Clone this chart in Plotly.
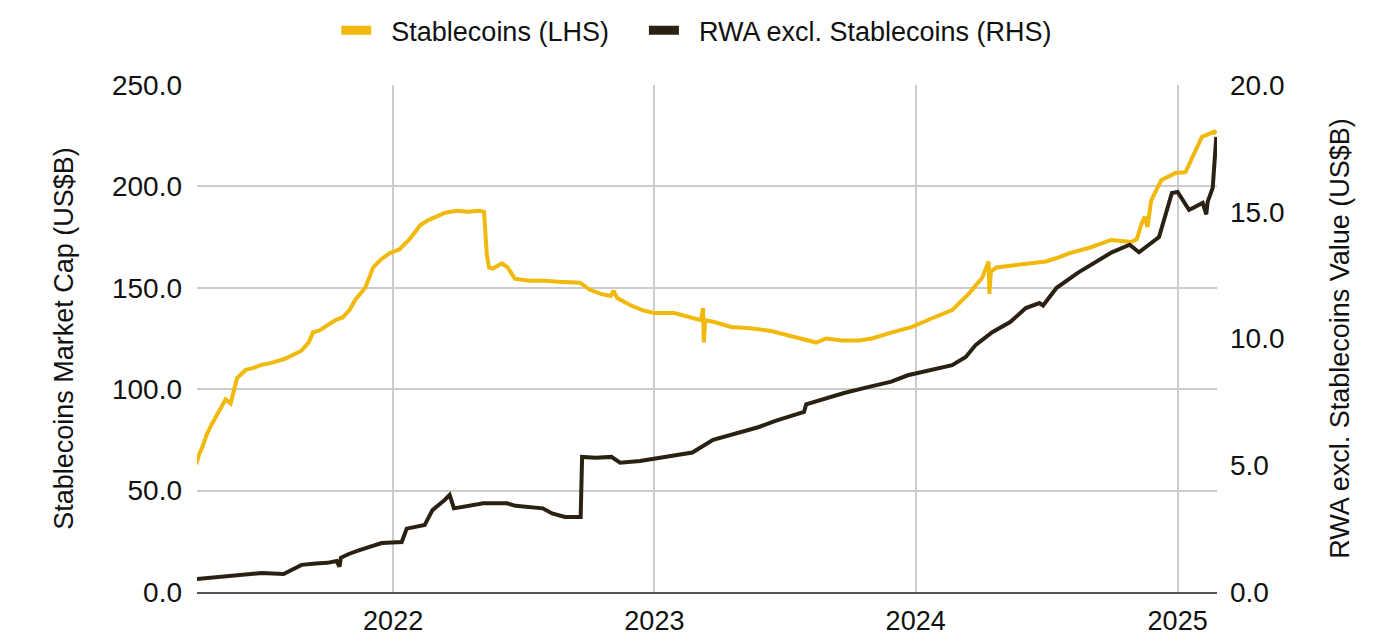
import plotly.graph_objects as go

# Stablecoins market cap (US$B), left axis
stable_dates = [
    "2021-04-01", "2021-04-05", "2021-04-09", "2021-04-16", "2021-04-23", "2021-05-01",
    "2021-05-12", "2021-05-19", "2021-05-24", "2021-05-28", "2021-06-09", "2021-06-20",
    "2021-07-01", "2021-07-15", "2021-08-03", "2021-08-15", "2021-08-26", "2021-09-05",
    "2021-09-11", "2021-09-20", "2021-10-02", "2021-10-12", "2021-10-23", "2021-11-01",
    "2021-11-09", "2021-11-16", "2021-11-23", "2021-12-04", "2021-12-15", "2021-12-27",
    "2022-01-10", "2022-01-24", "2022-02-08", "2022-02-20", "2022-03-03", "2022-03-15",
    "2022-03-31", "2022-04-15", "2022-05-02", "2022-05-08", "2022-05-12", "2022-05-15",
    "2022-05-20", "2022-06-02", "2022-06-10", "2022-06-20", "2022-07-10", "2022-08-01",
    "2022-08-20", "2022-09-19", "2022-10-03", "2022-10-18", "2022-11-01", "2022-11-05",
    "2022-11-10", "2022-11-28", "2022-12-15", "2023-01-01", "2023-01-29", "2023-02-20",
    "2023-03-07", "2023-03-10", "2023-03-11", "2023-03-13", "2023-03-27", "2023-04-18",
    "2023-05-15", "2023-06-13", "2023-07-15", "2023-08-15", "2023-08-29", "2023-09-20",
    "2023-10-14", "2023-11-01", "2023-11-29", "2023-12-27", "2024-01-24", "2024-02-21",
    "2024-03-16", "2024-04-03", "2024-04-12", "2024-04-13", "2024-04-15", "2024-04-23",
    "2024-05-15", "2024-06-03", "2024-07-01", "2024-07-19", "2024-08-02", "2024-09-02",
    "2024-09-30", "2024-10-28", "2024-11-05", "2024-11-12", "2024-11-16", "2024-11-20",
    "2024-11-25", "2024-12-09", "2024-12-29", "2025-01-12", "2025-01-26", "2025-02-04",
    "2025-02-15", "2025-02-21", "2025-02-24",
]
stable_values = [
    63, 68, 71, 78, 83, 88,
    95, 93, 101, 105.5, 109.5, 110.5,
    112, 113, 115, 117, 119, 123,
    128, 129, 132, 134, 135.5, 139,
    144, 147, 150, 160, 164, 167,
    169, 174, 181, 183.5, 185, 187,
    188, 187.5, 188, 187.5, 166, 160,
    159.5, 162, 160, 154.5, 153.5, 153.5,
    153, 152.5, 149, 147, 146, 148.5,
    145, 141.5, 139, 137.6, 137.6, 135.5,
    134, 140, 123, 134, 133, 130.7,
    130, 128.7, 126, 123, 125, 124,
    124, 125, 128, 130.7, 135, 139,
    147.4, 155, 163, 147, 158, 160,
    161, 162, 163, 165, 167, 170,
    173.6, 172.6, 174, 182, 185, 180,
    193, 203, 206.6, 207, 218, 224.4,
    226, 227, 226,
]

# RWA excl. stablecoins value (US$B), right axis
rwa_dates = [
    "2021-04-01", "2021-05-01", "2021-06-01", "2021-07-01", "2021-08-01", "2021-08-26",
    "2021-09-15", "2021-10-01", "2021-10-14", "2021-10-18", "2021-10-20", "2021-10-31",
    "2021-11-15", "2021-12-01", "2021-12-16", "2022-01-13", "2022-01-20", "2022-02-14",
    "2022-02-25", "2022-03-14", "2022-03-21", "2022-03-27", "2022-04-20", "2022-05-07",
    "2022-06-09", "2022-06-21", "2022-07-29", "2022-08-11", "2022-08-29", "2022-09-20",
    "2022-09-22", "2022-10-11", "2022-11-02", "2022-11-14", "2022-12-12", "2023-01-01",
    "2023-02-14", "2023-02-23", "2023-03-24", "2023-04-17", "2023-05-26", "2023-06-19",
    "2023-07-29", "2023-08-01", "2023-09-23", "2023-10-22", "2023-11-28", "2023-12-21",
    "2024-01-15", "2024-02-21", "2024-03-11", "2024-03-25", "2024-04-17", "2024-05-12",
    "2024-06-03", "2024-06-22", "2024-06-27", "2024-07-16", "2024-08-15", "2024-09-14",
    "2024-10-01", "2024-10-26", "2024-11-08", "2024-12-06", "2024-12-24", "2025-01-01",
    "2025-01-17", "2025-02-05", "2025-02-10", "2025-02-12", "2025-02-19", "2025-02-24",
]
rwa_values = [
    0.51, 0.58, 0.66, 0.75, 0.71, 1.07,
    1.12, 1.15, 1.22, 1.0, 1.35, 1.5,
    1.65, 1.8, 1.93, 1.97, 2.5, 2.64,
    3.23, 3.63, 3.83, 3.3, 3.43, 3.5,
    3.5, 3.4, 3.3, 3.1, 2.96, 2.96,
    5.33, 5.3, 5.33, 5.1, 5.17, 5.25,
    5.45, 5.5, 6.0, 6.2, 6.5, 6.75,
    7.1, 7.4, 7.85, 8.05, 8.3, 8.55,
    8.7, 8.95, 9.27, 9.75, 10.25, 10.65,
    11.2, 11.4, 11.3, 12.0, 12.6, 13.1,
    13.4, 13.7, 13.4, 14.0, 15.74, 15.78,
    15.07, 15.35, 14.9, 15.4, 15.94, 17.95,
]

YELLOW = "#F0B90B"
DARK = "#2A2112"
FONT = "Liberation Sans, Arial, sans-serif"
NB = "\u00a0"

fig = go.Figure()

fig.add_trace(go.Scatter(
    x=stable_dates, y=stable_values, mode="lines",
    line=dict(color=YELLOW, width=4), name="Stablecoins (LHS)",
    showlegend=False, yaxis="y",
))
fig.add_trace(go.Scatter(
    x=rwa_dates, y=rwa_values, mode="lines",
    line=dict(color=DARK, width=4), name="RWA excl. Stablecoins (RHS)",
    showlegend=False, yaxis="y2",
))

# legend-only entries with thick swatches
fig.add_trace(go.Scatter(x=[None], y=[None], mode="lines",
                         line=dict(color=YELLOW, width=9),
                         name=NB * 2 + "Stablecoins (LHS)" + NB * 4))
fig.add_trace(go.Scatter(x=[None], y=[None], mode="lines",
                         line=dict(color=DARK, width=9),
                         name=NB * 2 + "RWA excl. Stablecoins (RHS)"))

# page body adds 8px margin, so the figure is sized/offset to compensate
fig.update_layout(
    width=1379, height=634,
    margin=dict(l=189, r=170, t=77, b=50, autoexpand=False),
    paper_bgcolor="white", plot_bgcolor="white",
    font=dict(family=FONT, size=27, color="#111111"),
    legend=dict(
        orientation="h", x=0.49, xanchor="center", y=1.107, yanchor="middle",
        font=dict(size=27), itemwidth=30,
    ),
    xaxis=dict(
        type="date", automargin=False,
        range=["2021-04-02", "2025-02-25"],
        tick0="2022-01-01", dtick="M12", tickformat="%Y",
        showgrid=True, gridcolor="#cccccc", gridwidth=1.5,
        showline=True, linecolor="#555555", linewidth=2,
        ticks="", ticklabelstandoff=4, tickfont=dict(size=27),
    ),
    yaxis=dict(
        range=[0, 250], dtick=50, tickformat=".1f", automargin=False,
        showgrid=True, gridcolor="#cccccc", gridwidth=1.5,
        zeroline=False, ticks="", ticklabelstandoff=14, tickfont=dict(size=28),
        title=dict(text="Stablecoins Market Cap (US$B)", standoff=30, font=dict(size=27)),
    ),
    yaxis2=dict(
        range=[0, 20], dtick=5, tickformat=".1f", automargin=False,
        overlaying="y", side="right",
        showgrid=False, zeroline=False, ticks="", ticklabelstandoff=12, tickfont=dict(size=28),
        title=dict(text="RWA excl. Stablecoins Value (US$B)", standoff=46, font=dict(size=27)),
    ),
)

fig.write_html("out.html")
